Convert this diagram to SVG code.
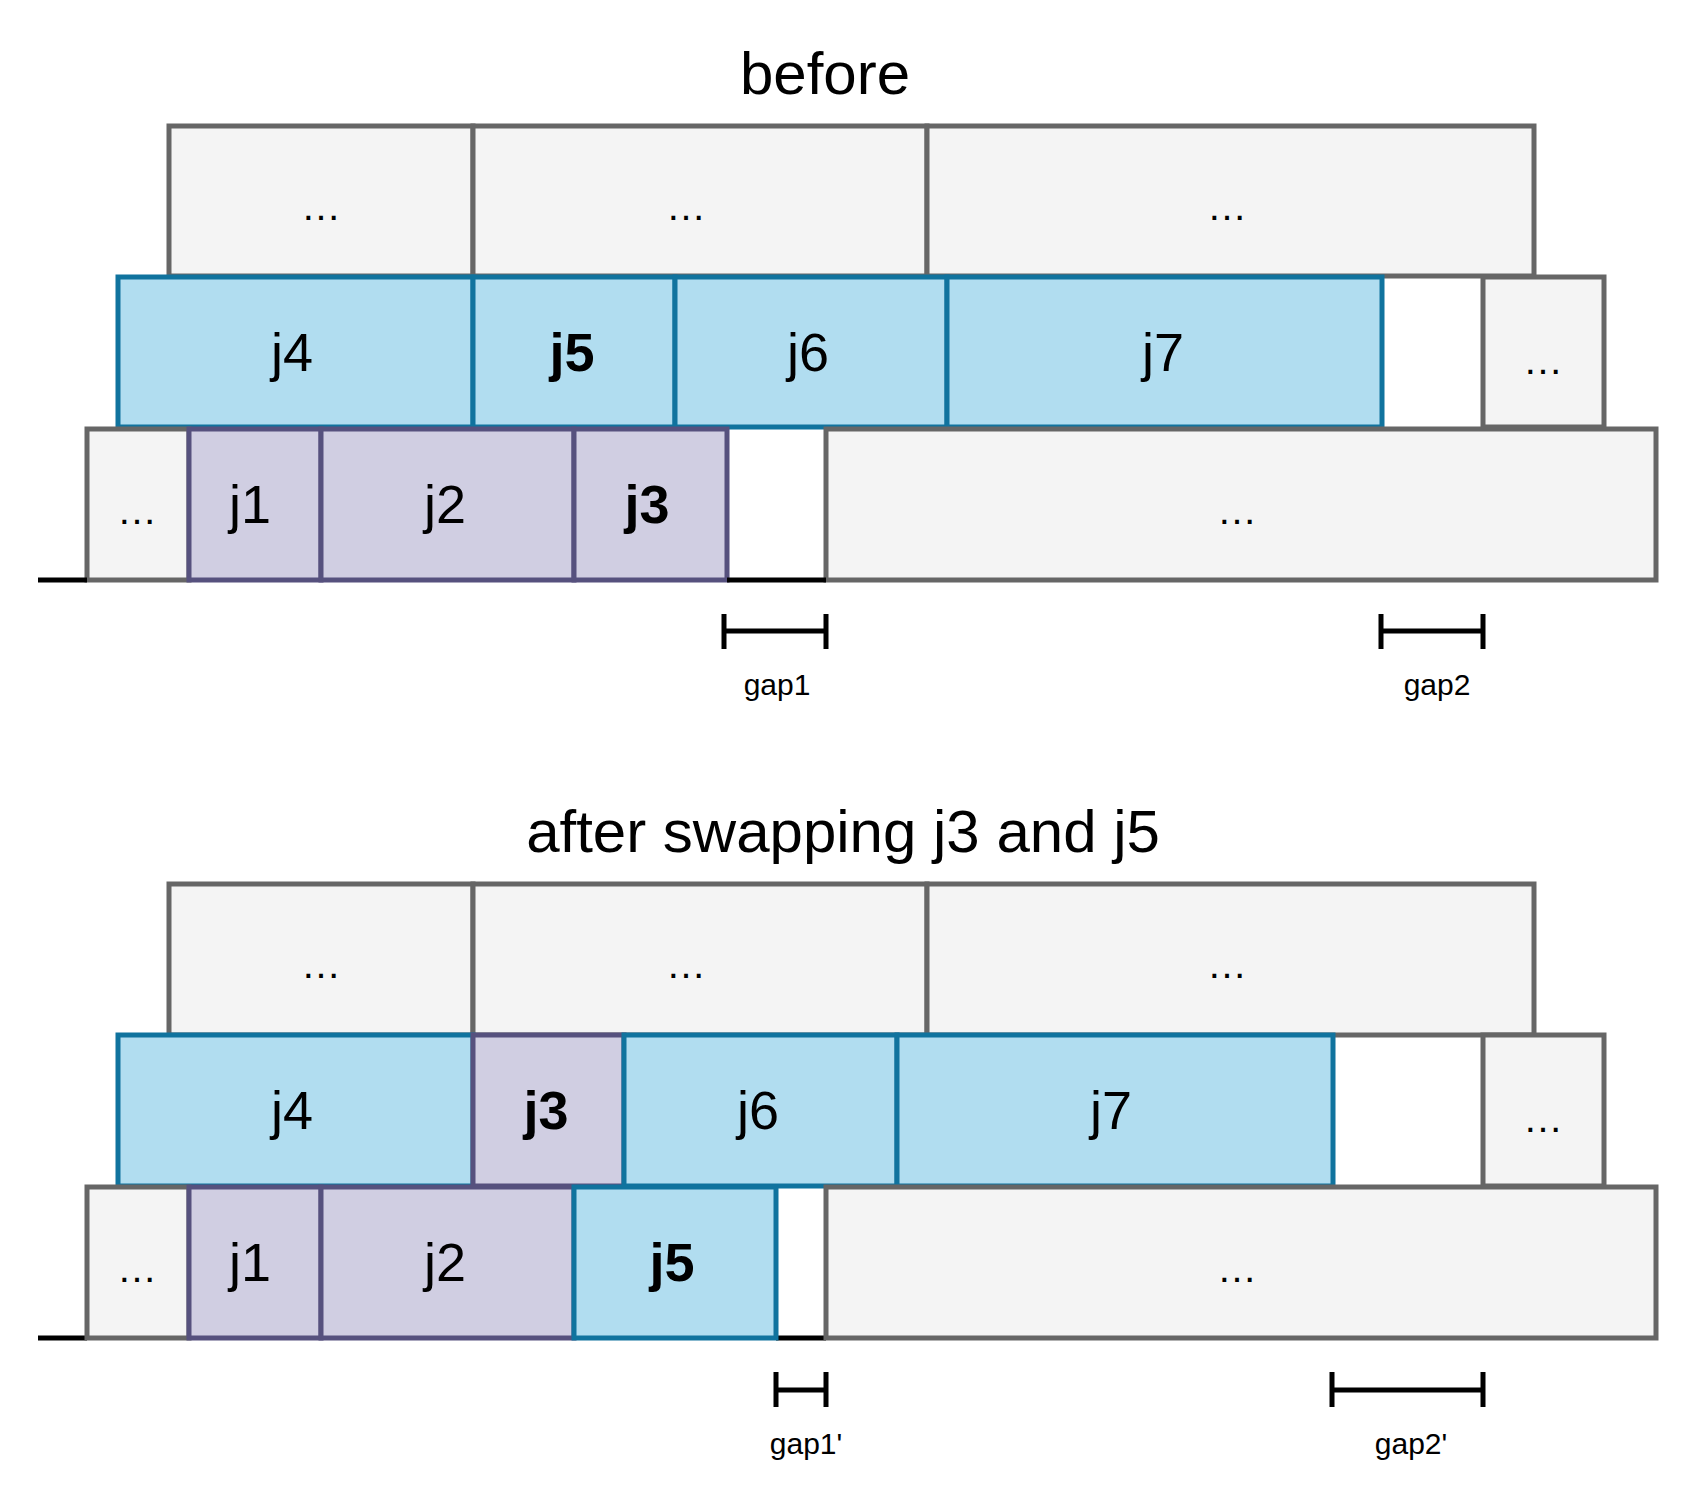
<svg xmlns="http://www.w3.org/2000/svg" width="1688" height="1490" viewBox="0 0 1688 1490">
<style>
text{font-family:"Liberation Sans",Arial,sans-serif;fill:#000;text-anchor:middle;dominant-baseline:central}
.g{fill:#f4f4f4;stroke:#666;stroke-width:5}
.b{fill:#b1ddf0;stroke:#10739e;stroke-width:5}
.p{fill:#d0cee2;stroke:#56517e;stroke-width:5}
.l{font-size:54px}
.bd{font-weight:bold}
.d{font-size:40px}
.t{font-size:60px}
.s{font-size:30px}
.k{stroke:#000;stroke-width:5;fill:none}
</style>
<rect width="1688" height="1490" fill="#fff"/>
<text class="t" x="825" y="73">before</text>
<g id="b-top1"><rect class="g" x="169" y="126" width="304" height="150"/><text class="d" x="321" y="206">…</text></g>
<g id="b-top2"><rect class="g" x="473" y="126" width="454" height="150"/><text class="d" x="686" y="206">…</text></g>
<g id="b-top3"><rect class="g" x="927" y="126" width="607" height="150"/><text class="d" x="1227" y="206">…</text></g>
<g id="b-j4"><rect class="b" x="118" y="277" width="355" height="150"/><text class="l" x="292" y="352">j4</text></g>
<g id="b-j5"><rect class="b" x="473" y="277" width="202" height="150"/><text class="l bd" x="572" y="352">j5</text></g>
<g id="b-j6"><rect class="b" x="675" y="277" width="272" height="150"/><text class="l" x="808" y="352">j6</text></g>
<g id="b-j7"><rect class="b" x="947" y="277" width="435" height="150"/><text class="l" x="1163" y="352">j7</text></g>
<g id="b-mid-g"><rect class="g" x="1483" y="277" width="121" height="150"/><text class="d" x="1543" y="360">…</text></g>
<g id="b-bot-d"><rect class="g" x="87" y="429" width="102" height="151"/><text class="d" x="137" y="510">…</text></g>
<g id="b-j1"><rect class="p" x="189" y="429" width="132" height="151"/><text class="l" x="250" y="504">j1</text></g>
<g id="b-j2"><rect class="p" x="321" y="429" width="253" height="151"/><text class="l" x="445" y="504">j2</text></g>
<g id="b-j3"><rect class="p" x="574" y="429" width="153" height="151"/><text class="l bd" x="647" y="504">j3</text></g>
<g id="b-bot-g"><rect class="g" x="826" y="429" width="830" height="151"/><text class="d" x="1237" y="510">…</text></g>
<g id="b-gap1"><path class="k" d="M724 614V649M826 614V649M724 631H826"/><text class="s" x="777" y="684">gap1</text></g>
<g id="b-gap2"><path class="k" d="M1381 614V649M1483 614V649M1381 631H1483"/><text class="s" x="1437" y="684">gap2</text></g>
<g id="connectors"><path class="k" d="M38 580H87M727 580H826M38 1338H87M776 1338H826"/></g>
<text class="t" x="843" y="831">after swapping j3 and j5</text>
<g id="a-top1"><rect class="g" x="169" y="884" width="304" height="151"/><text class="d" x="321" y="964">…</text></g>
<g id="a-top2"><rect class="g" x="473" y="884" width="454" height="151"/><text class="d" x="686" y="964">…</text></g>
<g id="a-top3"><rect class="g" x="927" y="884" width="607" height="151"/><text class="d" x="1227" y="964">…</text></g>
<g id="a-j4"><rect class="b" x="118" y="1035" width="355" height="151"/><text class="l" x="292" y="1110">j4</text></g>
<g id="a-j3"><rect class="p" x="473" y="1035" width="151" height="151"/><text class="l bd" x="546" y="1110">j3</text></g>
<g id="a-j6"><rect class="b" x="624" y="1035" width="273" height="151"/><text class="l" x="758" y="1110">j6</text></g>
<g id="a-j7"><rect class="b" x="897" y="1035" width="436" height="151"/><text class="l" x="1111" y="1110">j7</text></g>
<g id="a-mid-g"><rect class="g" x="1483" y="1035" width="121" height="151"/><text class="d" x="1543" y="1118">…</text></g>
<g id="a-bot-d"><rect class="g" x="87" y="1187" width="102" height="151"/><text class="d" x="137" y="1268">…</text></g>
<g id="a-j1"><rect class="p" x="189" y="1187" width="132" height="151"/><text class="l" x="250" y="1262">j1</text></g>
<g id="a-j2"><rect class="p" x="321" y="1187" width="253" height="151"/><text class="l" x="445" y="1262">j2</text></g>
<g id="a-j5"><rect class="b" x="574" y="1187" width="202" height="151"/><text class="l bd" x="672" y="1262">j5</text></g>
<g id="a-bot-g"><rect class="g" x="826" y="1187" width="830" height="151"/><text class="d" x="1237" y="1268">…</text></g>
<g id="a-gap1"><path class="k" d="M776 1372V1407M826 1372V1407M776 1390H826"/><text class="s" x="806" y="1443">gap1'</text></g>
<g id="a-gap2"><path class="k" d="M1332 1372V1407M1483 1372V1407M1332 1390H1483"/><text class="s" x="1411" y="1443">gap2'</text></g>
</svg>
